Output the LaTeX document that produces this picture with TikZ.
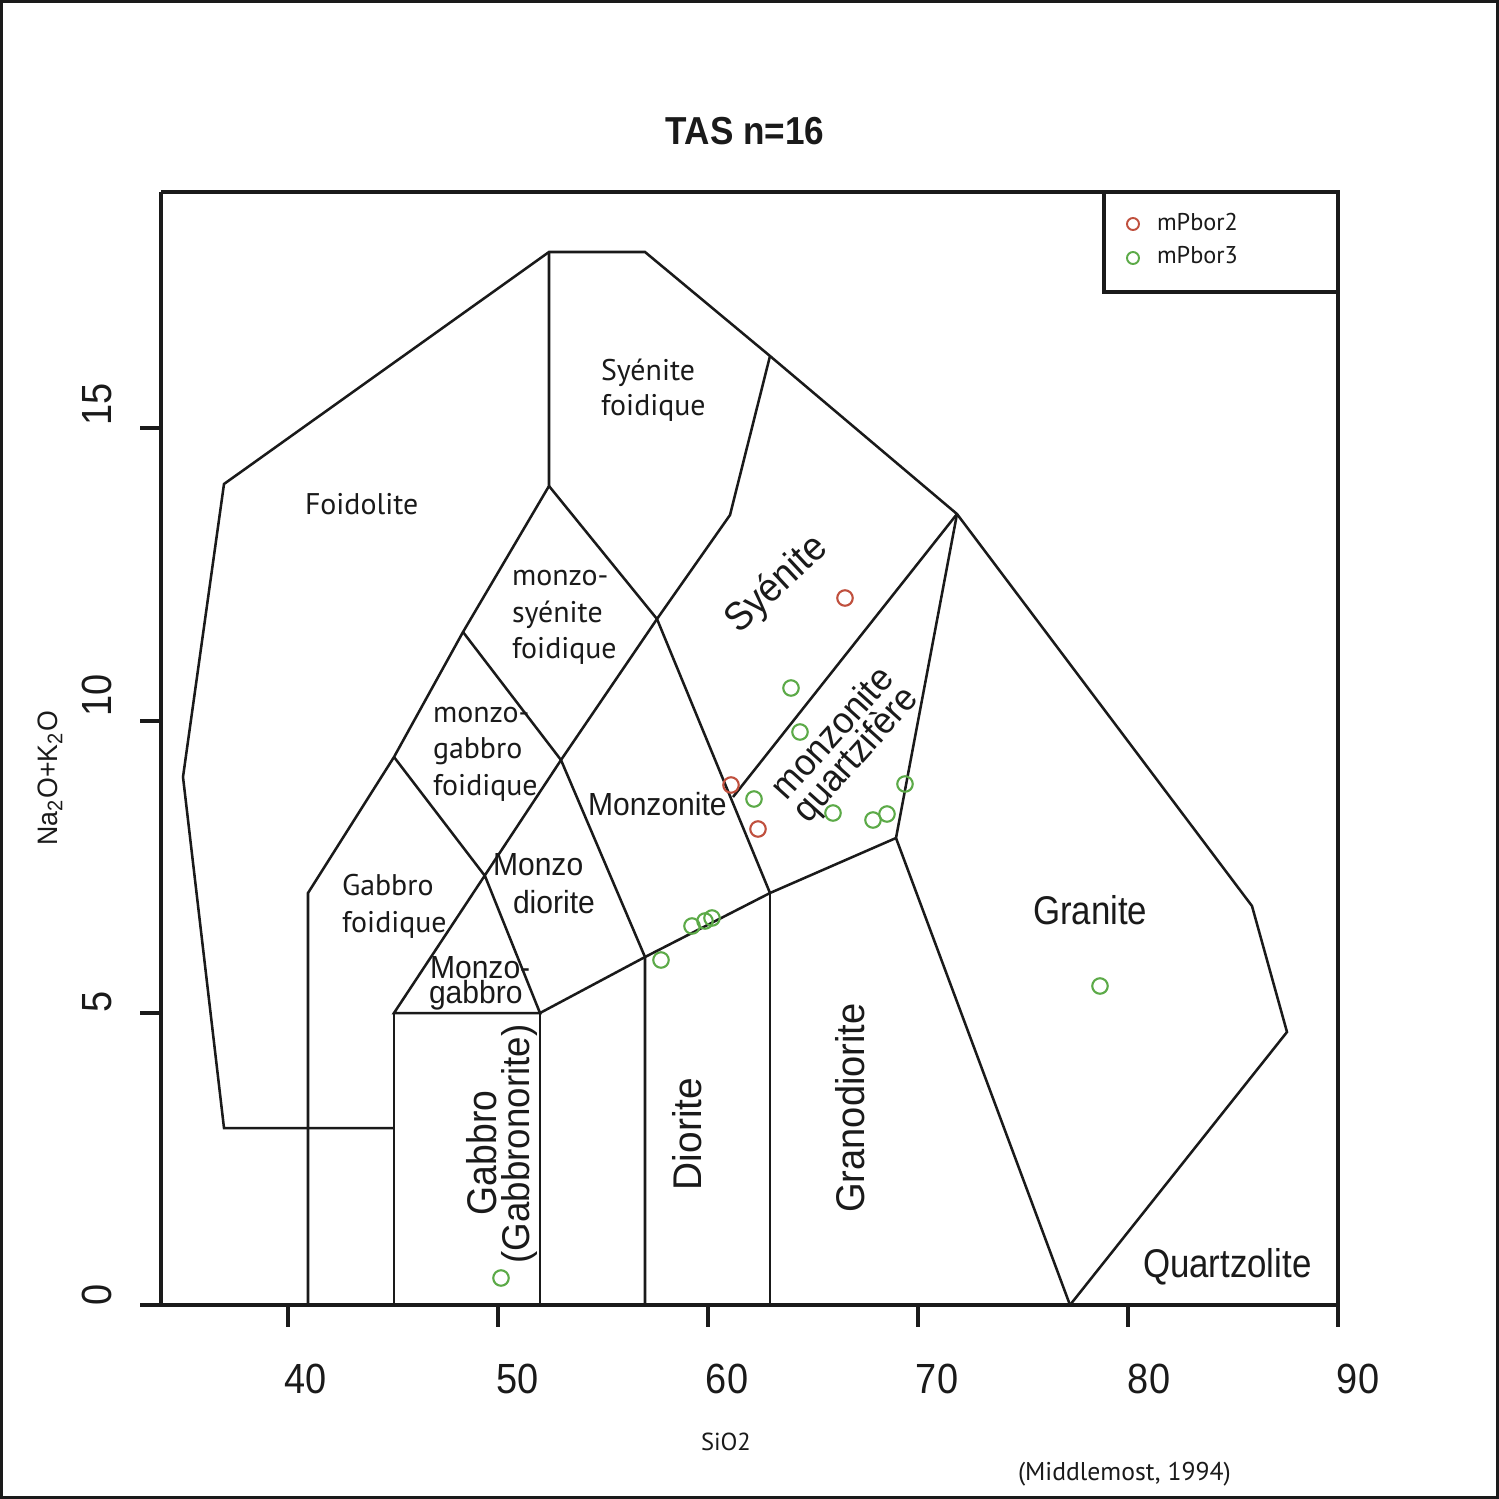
\documentclass[tikz,border=0pt]{standalone}
\usepackage{fontspec}
\setmainfont{Liberation Sans}
\newfontfamily\pts{PT Sans}
\definecolor{ptred}{RGB}{192,80,62}
\definecolor{ptgreen}{RGB}{92,170,72}
\definecolor{ink}{RGB}{26,26,26}
\newcommand{\nar}[2][0.9]{\scalebox{#1}[1]{#2}}
\tikzset{
  reg/.style={line width=0.72pt, draw=ink, line join=miter},
  axisln/.style={line width=0.9pt, draw=ink},
  ptA/.style={circle, draw=ptred, line width=0.6pt, minimum size=1.55mm, inner sep=0pt},
  ptB/.style={circle, draw=ptgreen, line width=0.6pt, minimum size=1.55mm, inner sep=0pt},
  lgA/.style={circle, draw=ptred, line width=0.55pt, minimum size=1.2mm, inner sep=0pt},
  lgB/.style={circle, draw=ptgreen, line width=0.55pt, minimum size=1.2mm, inner sep=0pt},
  lbl/.style={inner sep=0pt, outer sep=0pt, text=ink},
  big/.style={lbl, font=\fontsize{11.4}{13}\selectfont},
  med/.style={lbl, font=\fontsize{9.1}{11}\selectfont},
  myr/.style={lbl, font=\pts\fontsize{8.5}{10}\selectfont},
  num/.style={lbl, font=\fontsize{12}{14}\selectfont},
}
\begin{document}
\begin{tikzpicture}[x=0.1mm, y=-0.1mm]
\useasboundingbox (0,0) rectangle (1499,1499);
\fill[white] (0,0) rectangle (1499,1499);
% outer frame
\draw[line width=0.9pt, draw=ink] (1.5,1.5) rectangle (1497.5,1497.5);

% vertices
\coordinate (a1) at (224,1128);
\coordinate (a2) at (183,777);
\coordinate (a3) at (224,484);
\coordinate (a4) at (549,252);
\coordinate (a5) at (645,252);
\coordinate (a6) at (770,356);
\coordinate (a7) at (957,514);
\coordinate (a8) at (1252,906);
\coordinate (a9) at (1287,1032);
\coordinate (a10) at (1070,1305);
\coordinate (b1) at (394,1128);
\coordinate (c1) at (549,486);
\coordinate (c2) at (463,632);
\coordinate (c3) at (394,757);
\coordinate (c4) at (308,893);
\coordinate (c5) at (308,1305);
\coordinate (d1) at (657,619);
\coordinate (d2) at (730,515);
\coordinate (e1) at (561,760);
\coordinate (e2) at (485,876);
\coordinate (f1) at (394,1013);
\coordinate (f2) at (540,1013);
\coordinate (g1) at (645,957);
\coordinate (g2) at (770,893);
\coordinate (g3) at (896,838);
\coordinate (h1) at (733,797);
\coordinate (f1b) at (394,1305);
\coordinate (f2b) at (540,1305);
\coordinate (g1b) at (645,1305);
\coordinate (g2b) at (770,1305);

% field boundaries
\draw[reg] (a10) -- (a9) -- (a8) -- (a7) -- (a6) -- (a5) -- (a4) -- (a3) -- (a2) -- (a1) -- (b1);
\draw[reg] (a4) -- (c1) -- (c2) -- (c3) -- (c4) -- (c5);
\draw[reg] (c1) -- (d1) -- (d2) -- (a6);
\draw[reg] (c2) -- (e1) -- (d1);
\draw[reg] (c3) -- (e2) -- (f2) -- (f1) -- (e1);
\draw[reg] (e1) -- (g1) -- (g1b);
\draw[reg] (f1) -- (f1b);
\draw[reg] (f2) -- (f2b);
\draw[reg] (f2) -- (g1) -- (g2) -- (g3) -- (a7);
\draw[reg] (g2) -- (g2b);
\draw[reg] (d1) -- (g2);
\draw[reg] (h1) -- (a7);
\draw[reg] (g3) -- (a10);

% plot box and axes
\draw[axisln] (161,192) -- (1338,192) -- (1338,1327);
\draw[axisln] (161,192) -- (161,1305);
\draw[axisln] (140,1305) -- (1338,1305);
\foreach \yy in {428,721,1013} \draw[axisln] (140,\yy) -- (161,\yy);
\foreach \xx in {288,498,708,918,1128} \draw[axisln] (\xx,1305) -- (\xx,1327);
% legend box
\draw[axisln] (1104,192) -- (1104,292) -- (1338,292);

% tick labels
\node[num, anchor=base] (x40) at (306,1393) {\nar{40}};
\node[num, anchor=base] (x50) at (518,1393) {\nar{50}};
\node[num, anchor=base] (x60) at (727,1393) {\nar{60}};
\node[num, anchor=base] (x70) at (937,1393) {\nar{70}};
\node[num, anchor=base] (x80) at (1149,1393) {\nar{80}};
\node[num, anchor=base] (x90) at (1358,1393) {\nar{90}};
\node[num, rotate=90] (y15) at (97,404) {\nar{15}};
\node[num, rotate=90] (y10) at (97,695) {\nar{10}};
\node[num, rotate=90] (y5) at (97,1002) {\nar{5}};
\node[num, rotate=90] (y0) at (97,1295) {\nar{0}};

% axis titles, title, source
\node[lbl, font=\bfseries\fontsize{11.1}{13}\selectfont, anchor=base] (title) at (745,144) {\nar{TAS n=16}};
\node[lbl, font=\pts\fontsize{7}{8}\selectfont, anchor=base west] (xlab) at (701,1450) {SiO2};
\node[lbl, font=\fontsize{8}{9}\selectfont, rotate=90] (ylab) at (50,778) {\nar[0.95]{Na\textsubscript{2}O+K\textsubscript{2}O}};
\node[lbl, font=\pts\fontsize{7.3}{8}\selectfont, anchor=base west] (src) at (1018,1480) {(Middlemost, 1994)};

% legend
\node[lgA] (lg1) at (1133,224) {};
\node[lgB] (lg2) at (1133,258) {};
\node[lbl, font=\pts\fontsize{6.9}{8}\selectfont, anchor=base west] (lt1) at (1157,230) {mPbor2};
\node[lbl, font=\pts\fontsize{6.9}{8}\selectfont, anchor=base west] (lt2) at (1157,263) {mPbor3};

% field names (Myriad-like)
\node[myr, anchor=base west] (n1) at (305,514) {Foidolite};
\node[myr, anchor=base west] (n2a) at (601,380) {Syénite};
\node[myr, anchor=base west] (n2b) at (601,415) {foidique};
\node[myr, anchor=base west] (n3a) at (512,585) {monzo-};
\node[myr, anchor=base west] (n3b) at (512,622) {syénite};
\node[myr, anchor=base west] (n3c) at (512,658) {foidique};
\node[myr, anchor=base west] (n4a) at (433,722) {monzo-};
\node[myr, anchor=base west] (n4b) at (433,758) {gabbro};
\node[myr, anchor=base west] (n4c) at (433,795) {foidique};
\node[myr, anchor=base west] (n5a) at (342,895) {Gabbro};
\node[myr, anchor=base west] (n5b) at (342,932) {foidique};

% field names (Helvetica-like)
\node[med, anchor=base west] (n6a) at (493,875) {\nar[0.94]{Monzo}};
\node[med, anchor=base west] (n6b) at (513,913) {\nar[0.94]{diorite}};
\node[med, anchor=base west] (n7) at (588,815) {\nar[0.94]{Monzonite}};
\node[med, anchor=base west] (n8a) at (430,978) {\nar[0.94]{Monzo-}};
\node[med, anchor=base west] (n8b) at (429,1003) {\nar[0.94]{gabbro}};
\node[big, anchor=base west] (n9) at (1033,924) {\nar[0.87]{Granite}};
\node[big, anchor=base west] (n10) at (1143,1277) {\nar[0.87]{Quartzolite}};
\node[big, rotate=90, font=\fontsize{11.8}{13}\selectfont] (n11a) at (482,1153) {\nar[0.9]{Gabbro}};
\node[big, rotate=90, font=\fontsize{11}{13}\selectfont] (n11b) at (519,1144) {\nar[0.95]{(Gabbronorite)}};
\node[big, rotate=90] (n12) at (687,1134) {\nar[0.97]{Diorite}};
\node[big, rotate=90] (n13) at (850,1108) {\nar[0.95]{Granodiorite}};
\node[big, rotate=43] (n14) at (777,585) {\nar[0.92]{Syénite}};
\node[lbl, font=\fontsize{10.6}{12}\selectfont, rotate=48, anchor=base] (n15a) at (841,741) {\nar[0.95]{monzonite}};
\node[lbl, font=\fontsize{10.6}{12}\selectfont, rotate=48, anchor=base] (n15b) at (864,762) {\nar[0.95]{quartzifère}};

% data points
\node[ptA] (r1) at (845,598) {};
\node[ptA] (r2) at (731,785) {};
\node[ptA] (r3) at (758,829) {};
\node[ptB] (p1) at (791,688) {};
\node[ptB] (p2) at (800,732) {};
\node[ptB] (p3) at (754,799) {};
\node[ptB] (p4) at (833,813) {};
\node[ptB] (p5) at (873,820) {};
\node[ptB] (p6) at (887,814) {};
\node[ptB] (p7) at (905,784) {};
\node[ptB] (p8) at (661,960) {};
\node[ptB] (p9) at (692,926) {};
\node[ptB] (p10) at (705,921) {};
\node[ptB] (p11) at (712,918) {};
\node[ptB] (p12) at (1100,986) {};
\node[ptB] (p13) at (501,1278) {};
\end{tikzpicture}
\end{document}
